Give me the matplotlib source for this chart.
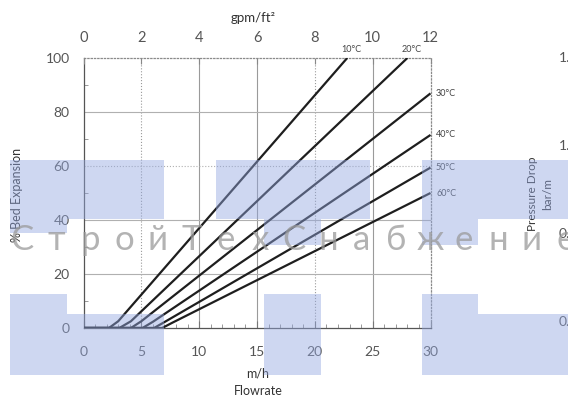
import matplotlib
matplotlib.use("Agg")
import matplotlib.pyplot as plt
from matplotlib.patches import Rectangle

plt.rcParams['font.family'] = ['Lato', 'DejaVu Sans']

# ---- data ----
temps = ['10°C', '20°C', '30°C', '40°C', '50°C', '60°C']
flow_10 = [0, 2.2, 3.0, 22.8]
exp_10 = [0, 0, 2.5, 100]
flow_20 = [0, 3.1, 4.1, 28.0]
exp_20 = [0, 0, 2.5, 100]
flow_30 = [0, 4.1, 5.0, 30.0]
exp_30 = [0, 0, 2.5, 86.9]
flow_40 = [0, 5.1, 6.0, 30.0]
exp_40 = [0, 0, 2.3, 71.5]
flow_50 = [0, 6.1, 7.0, 30.0]
exp_50 = [0, 0, 2.2, 59.4]
flow_60 = [0, 6.8, 7.7, 30.0]
exp_60 = [0, 0, 2.0, 50.0]
flows = [flow_10, flow_20, flow_30, flow_40, flow_50, flow_60]
exps = [exp_10, exp_20, exp_30, exp_40, exp_50, exp_60]

x_ticks_mh = [0, 5, 10, 15, 20, 25, 30]
x_ticks_gpm = [0, 2, 4, 6, 8, 10, 12]
y_ticks = [0, 20, 40, 60, 80, 100]
right_labels = ['1.5', '1.0', '0.5', '0.0']
watermark = 'СтройТехСнабжение'

W, H = 568, 400
fig = plt.figure(figsize=(W / 100, H / 100), dpi=100)
fig.patch.set_facecolor('white')

def fx(px):
    return px / W

def fy(py):
    return 1 - py / H

L, R, T, B = 83.5, 430.5, 58, 328
ax = fig.add_axes([fx(L), fy(B), fx(R) - fx(L), fy(T) - fy(B)])
ax.set_xlim(0, 30)
ax.set_ylim(0, 100)

tick_col = '#555555'
grid_col = '#9a9a9a'

# grid lines
vstyles = {5: ':', 10: '-', 15: '-', 20: ':', 25: '-'}
for xv, ls in vstyles.items():
    ax.axvline(xv, color=grid_col, lw=0.8, ls=ls, zorder=1)
hstyles = {20: '-', 40: '-', 60: ':', 80: '-'}
for yv, ls in hstyles.items():
    ax.axhline(yv, color='#b0b0b0', lw=0.8, ls=ls, zorder=1)

for flow, e in zip(flows, exps):
    ax.plot(flow, e, color='#1e1e1e', lw=1.6, solid_capstyle='butt',
            solid_joinstyle='round', zorder=3)

# temperature labels
for flow, e, t in zip(flows, exps, temps):
    if e[-1] >= 99:
        ax.annotate(t, (flow[-1], 100), xytext=(3, 3), textcoords='offset points',
                    ha='center', va='bottom', fontsize=6.5, color='#444444',
                    annotation_clip=False)
    else:
        ax.annotate(t, (30, e[-1]), xytext=(4, 0), textcoords='offset points',
                    ha='left', va='center', fontsize=6.5, color='#444444',
                    annotation_clip=False)

# spines
ax.spines['left'].set_color('#555555')
ax.spines['bottom'].set_color('#555555')
for s in ['top', 'right']:
    ax.spines[s].set_color('#8a8a8a')
    ax.spines[s].set_linestyle(':')
for s in ax.spines.values():
    s.set_linewidth(0.9)

ax.set_xticks(x_ticks_mh)
ax.set_xticklabels([str(v) for v in x_ticks_mh])
ax.set_xticks(range(0, 31), minor=True)
ax.set_yticks(y_ticks)
ax.set_yticklabels([str(v) for v in y_ticks])
ax.set_yticks(range(0, 101, 10), minor=True)
ax.tick_params(axis='x', which='major', direction='in', length=5, pad=13,
               labelsize=10, labelcolor=tick_col, color='#777777')
ax.tick_params(axis='x', which='minor', direction='in', length=3, color='#888888')
ax.tick_params(axis='y', which='major', direction='in', length=0, pad=10,
               labelsize=10, labelcolor=tick_col)
ax.tick_params(axis='y', which='minor', direction='in', length=3, color='#888888')

ax2 = ax.twiny()
ax2.set_xlim(0, 12)
ax2.set_xticks(x_ticks_gpm)
ax2.set_xticklabels([str(v) for v in x_ticks_gpm])
ax2.tick_params(axis='x', direction='in', length=4, pad=9, labelsize=10.5,
                labelcolor=tick_col, color='#888888')
for s in ax2.spines.values():
    s.set_visible(False)

# axis titles
fig.text(fx(253), fy(18), 'gpm/ft²', ha='center', va='center', fontsize=9.5, color='#333333')
fig.text(fx(258), fy(373), 'm/h', ha='center', va='center', fontsize=9, color='#333333')
fig.text(fx(258), fy(391), 'Flowrate', ha='center', va='center', fontsize=9, color='#333333')
fig.text(fx(17), fy(195), '% Bed Expansion', ha='center', va='center', rotation=90,
         fontsize=9, color='#333333')

# partial neighbouring chart
fig.text(fx(533), fy(194), 'Pressure Drop', ha='center', va='center', rotation=90,
         fontsize=8.5, color='#333333')
fig.text(fx(548), fy(194), 'bar/m', ha='center', va='center', rotation=90,
         fontsize=8.5, color='#333333')
for lab, py in zip(right_labels, [58, 146, 234, 322]):
    fig.text(fx(559), fy(py), lab, ha='left', va='center', fontsize=10, color=tick_col)

# watermark overlay
blue = '#93a7e0'
rects = [(10, 160, 154, 59), (10, 219, 57, 14), (216, 160, 154, 59), (264, 219, 57, 26),
         (422, 160, 146, 59), (422, 219, 56, 26),
         (10, 294, 57, 20), (10, 314, 154, 61), (264, 294, 57, 81),
         (422, 294, 56, 20), (422, 314, 146, 61)]
for x0, y0, w, h in rects:
    fig.patches.append(Rectangle((fx(x0), fy(y0 + h)), w / W, h / H,
                                 transform=fig.transFigure, facecolor=blue,
                                 alpha=0.45, edgecolor='none', zorder=10))
for i, ch in enumerate(watermark):
    fig.text(fx(22 + i * 34.0), fy(240), ch, ha='center', va='center',
             fontsize=25, color='#9a9a9a', alpha=0.75, zorder=11)

fig.savefig('out.png', dpi=100)
